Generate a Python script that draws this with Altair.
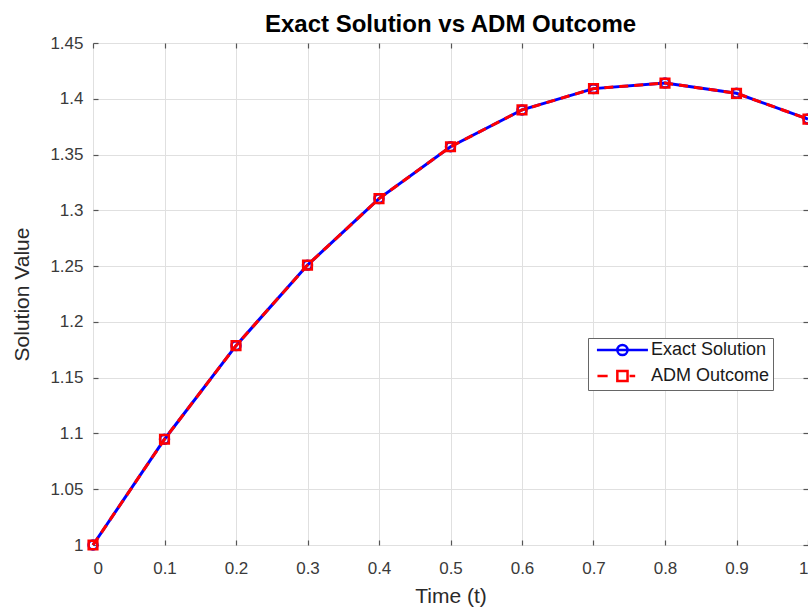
import altair as alt
import pandas as pd

t_vals = [0.0, 0.1, 0.2, 0.3, 0.4, 0.5, 0.6, 0.7, 0.8, 0.9, 1.0]
exact_vals = [1.0, 1.0948, 1.1787, 1.2509, 1.3105, 1.3570, 1.3900, 1.4091, 1.4141, 1.4049, 1.3818]
adm_vals = [1.0, 1.0948, 1.1787, 1.2509, 1.3105, 1.3570, 1.3900, 1.4091, 1.4141, 1.4049, 1.3818]
series_names = ["Exact Solution", "ADM Outcome"]
x_ticks = [0, 0.1, 0.2, 0.3, 0.4, 0.5, 0.6, 0.7, 0.8, 0.9, 1.0]
y_ticks = [1.0, 1.05, 1.1, 1.15, 1.2, 1.25, 1.3, 1.35, 1.4, 1.45]

PAD = "\u00a0\u00a0\u00a0"
legend_names = [s + PAD for s in series_names]

df = pd.DataFrame({
    "t": t_vals + t_vals,
    "value": exact_vals + adm_vals,
    "series": [series_names[0]] * len(t_vals) + [series_names[1]] * len(t_vals),
    "legend_label": [legend_names[0]] * len(t_vals) + [legend_names[1]] * len(t_vals),
})

W, H = 715, 502
FONT = "Liberation Sans"
BLUE, RED = "#0000ff", "#ff0000"

xs = alt.Scale(domain=[0, 1], nice=False, zero=False)
ys = alt.Scale(domain=[1.0, 1.45], nice=False, zero=False)


def tick_axis(orient, offset, values):
    return alt.Axis(orient=orient, offset=offset, labels=False, grid=False, domain=False,
                    tickSize=5, tickColor="#555555", tickWidth=1.2, title=None, values=values)


base = alt.Chart(df)

blue_line = base.transform_filter(alt.datum.series == series_names[0]).mark_line(
    color=BLUE, strokeWidth=3
).encode(
    x=alt.X("t:Q", scale=xs, axis=alt.Axis(
        values=x_ticks, format="~g", title="Time (t)", grid=True, ticks=False, domain=False,
        labelFontSize=17, labelColor="#3a3a3a", labelPadding=15, labelFont=FONT,
        titleFontSize=21, titleFont=FONT, titleFontWeight="normal", titleColor="#2a2a2a",
        titlePadding=9, gridColor="#e0e0e0", gridWidth=1)),
    y=alt.Y("value:Q", scale=ys, axis=alt.Axis(
        values=y_ticks, format="~g", title="Solution Value", grid=True, ticks=False, domain=False,
        labelFontSize=17, labelColor="#3a3a3a", labelPadding=10, labelFont=FONT,
        titleFontSize=21, titleFont=FONT, titleFontWeight="normal", titleColor="#2a2a2a",
        titlePadding=17, gridColor="#e0e0e0", gridWidth=1)),
)

blue_pts = base.transform_filter(alt.datum.series == series_names[0]).mark_point(
    shape="circle", filled=False, color=BLUE, size=80, strokeWidth=2.5, opacity=1
).encode(
    x=alt.X("t:Q", scale=xs, axis=tick_axis("top", -H, x_ticks)),
    y=alt.Y("value:Q", scale=ys, axis=tick_axis("right", -W, y_ticks)),
)

red_line = base.transform_filter(alt.datum.series == series_names[1]).mark_line(
    color=RED, strokeWidth=3, strokeDash=[9, 6]
).encode(
    x=alt.X("t:Q", scale=xs, axis=tick_axis("bottom", -H, x_ticks)),
    y=alt.Y("value:Q", scale=ys, axis=tick_axis("left", -W, y_ticks)),
)

red_pts = base.transform_filter(alt.datum.series == series_names[1]).mark_point(
    shape="square", filled=False, color=RED, size=75, strokeWidth=2.5, opacity=1
).encode(
    x=alt.X("t:Q", scale=xs, axis=None),
    y=alt.Y("value:Q", scale=ys, axis=None),
)

path_exact = "M-0.6,0H9.4M3.4,0A1,1,0,1,0,5.4,0A1,1,0,1,0,3.4,0"
path_adm = "M-0.5,0H1.5M3.4,-1H5.4V1H3.4ZM5.8,0H6.9"

leg = alt.Legend(title=None, orient="none", legendX=495, legendY=295,
                 labelFont=FONT, labelFontSize=18, labelColor="#1a1a1a", labelLimit=400,
                 symbolSize=104, symbolStrokeWidth=2.5, symbolOpacity=1,
                 labelOffset=42, rowPadding=4, padding=3,
                 strokeColor="#666666", fillColor="#ffffff")

legend_layer = base.mark_point(filled=False, opacity=0).encode(
    x=alt.X("t:Q", scale=xs, axis=None),
    y=alt.Y("value:Q", scale=ys, axis=None),
    color=alt.Color("legend_label:N", scale=alt.Scale(domain=legend_names, range=[BLUE, RED]), legend=leg),
    shape=alt.Shape("legend_label:N", scale=alt.Scale(domain=legend_names, range=[path_exact, path_adm]), legend=leg),
)

chart = alt.layer(blue_line, blue_pts, red_line, red_pts, legend_layer).resolve_axis(
    x="independent", y="independent"
).properties(
    width=W, height=H,
    title=alt.TitleParams("Exact Solution vs ADM Outcome", font=FONT, fontSize=24,
                          fontWeight="bold", color="#000000", offset=-3, anchor="middle"),
    padding={"left": 93, "top": 43, "right": 0, "bottom": 62},
    autosize=alt.AutoSizeParams(type="none"),
).configure_view(stroke="#5a5a5a", strokeWidth=1.3).configure(background="#ffffff")

chart.save("out.html", embed_options={"renderer": "svg", "actions": False})
